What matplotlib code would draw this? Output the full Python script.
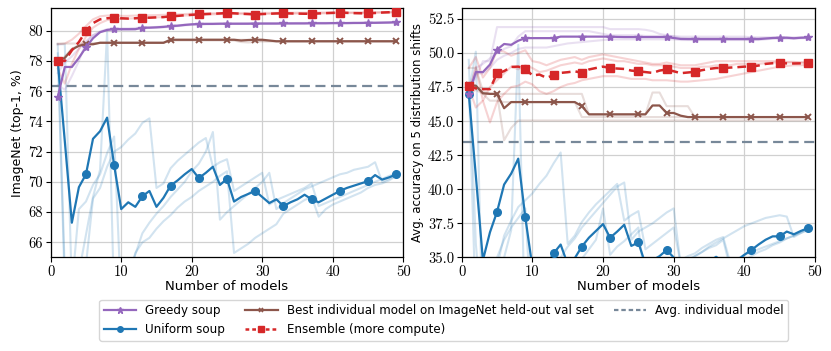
import numpy as np
import matplotlib
matplotlib.use("Agg")
import matplotlib.pyplot as plt
from matplotlib.ticker import MultipleLocator, FormatStrFormatter
from matplotlib.lines import Line2D

plt.rcParams['font.family'] = ['DejaVu Sans']
plt.rcParams['axes.formatter.use_mathtext'] = True

n_models = list(range(1, 50))

# ---------------- ImageNet (left) ----------------
greedy_in = [75.6, 77.6, 77.6, 78.2, 78.9, 79.5, 79.9, 80.05, 80.1, 80.1,
             80.1, 80.1, 80.2, 80.2, 80.22, 80.25, 80.3, 80.33, 80.38, 80.42,
             80.44, 80.45, 80.45, 80.46, 80.46, 80.46, 80.46, 80.46, 80.47, 80.47,
             80.47, 80.47, 80.48, 80.48, 80.48, 80.48, 80.49, 80.49, 80.49, 80.5,
             80.5, 80.5, 80.51, 80.51, 80.52, 80.52, 80.53, 80.54, 80.56]
uniform_in = [78.0, 72.7, 67.3, 69.65, 70.5, 72.85, 73.35, 74.25, 71.1, 68.2,
              68.65, 68.35, 69.05, 69.4, 68.35, 68.95, 69.75, 70.1, 70.5, 70.85,
              70.25, 70.6, 71.0, 69.8, 70.2, 68.7, 69.0, 69.2, 69.4, 69.0,
              68.6, 68.85, 68.4, 68.65, 68.85, 69.15, 68.85, 68.65, 68.9, 69.15,
              69.4, 69.6, 69.75, 69.9, 70.05, 70.45, 70.15, 70.3, 70.5]
best_in = [78.0, 78.2, 78.75, 79.0, 79.1, 79.1, 79.2, 79.2, 79.2, 79.2,
           79.2, 79.2, 79.2, 79.2, 79.2, 79.2, 79.4, 79.4, 79.4, 79.4,
           79.4, 79.4, 79.4, 79.4, 79.4, 79.4, 79.35, 79.38, 79.4, 79.4,
           79.35, 79.3, 79.3, 79.3, 79.3, 79.3, 79.3, 79.3, 79.3, 79.3,
           79.3, 79.3, 79.3, 79.3, 79.3, 79.3, 79.3, 79.3, 79.3]
ens_in = [78.0, 78.0, 78.7, 79.25, 79.97, 80.5, 80.75, 80.82, 80.86, 80.82,
          80.8, 80.82, 80.86, 80.86, 80.88, 80.9, 80.95, 80.98, 81.02, 81.05,
          81.08, 81.1, 81.12, 81.14, 81.17, 81.15, 81.12, 81.1, 81.07, 81.1,
          81.12, 81.14, 81.15, 81.14, 81.13, 81.12, 81.12, 81.14, 81.16, 81.18,
          81.2, 81.18, 81.16, 81.15, 81.14, 81.17, 81.2, 81.22, 81.25]
avg_in = 76.36

# faint lines (other orderings), ImageNet
uniform_in_faint = [
    [79.1, 79.1, 63.0, 68.2, 68.7, 69.8, 70.5, 71.9, 73.0, 62.0,
     63.5, 65.3, 66.0, 66.3, 66.9, 67.4, 67.8, 68.3, 68.7, 69.0,
     69.4, 69.7, 70.0, 70.4, 70.7, 65.3, 65.6, 65.9, 66.3, 66.6,
     66.9, 67.2, 67.9, 68.2, 68.5, 68.8, 69.0, 67.7, 68.2, 68.5,
     68.7, 68.9, 69.1, 69.3, 69.6, 69.8, 69.9, 70.1, 70.4],
    [78.5, 63.0, 62.0, 64.0, 66.5, 69.0, 70.8, 79.9, 62.0, 63.0,
     64.0, 65.2, 66.6, 67.3, 67.9, 68.4, 69.0, 69.5, 70.0, 70.7,
     71.2, 72.0, 73.3, 67.5, 68.0, 68.4, 68.8, 69.2, 69.6, 70.0,
     70.6, 68.2, 68.6, 68.9, 69.2, 69.5, 69.7, 69.9, 70.1, 70.3,
     70.5, 70.6, 70.8, 70.9, 71.0, 71.3, 70.0, 70.2, 70.4],
    [79.1, 64.0, 60.0, 62.0, 64.5, 68.9, 69.6, 71.0, 72.0, 72.3,
     72.8, 73.2, 73.9, 74.2, 69.6, 69.9, 70.9, 71.4, 71.8, 72.2,
     72.6, 72.9, 71.0, 71.3, 71.5, 69.4, 69.7, 70.0, 70.3, 70.6,
     68.5, 68.8, 69.0, 69.2, 69.4, 69.6, 69.9, 68.4, 68.6, 68.8,
     69.0, 69.2, 69.4, 69.6, 69.8, 70.0, 70.2, 70.4, 70.55],
]
greedy_in_faint = [
    [76.4, 76.1, 77.0, 78.0, 79.2, 79.7, 79.95, 80.1, 80.15, 80.15,
     80.15, 80.18, 80.2, 80.22, 80.25, 80.28, 80.3, 80.35, 80.4, 80.42,
     80.45, 80.46, 80.47, 80.48, 80.48, 80.48, 80.49, 80.49, 80.5, 80.5,
     80.5, 80.5, 80.5, 80.5, 80.51, 80.51, 80.51, 80.52, 80.52, 80.52,
     80.52, 80.53, 80.53, 80.53, 80.54, 80.54, 80.55, 80.55, 80.56],
    [77.2, 77.9, 78.3, 78.8, 79.3, 79.7, 79.9, 80.0, 80.05, 80.05,
     80.05, 80.08, 80.15, 80.18, 80.2, 80.22, 80.25, 80.3, 80.35, 80.38,
     80.4, 80.42, 80.43, 80.44, 80.45, 80.45, 80.45, 80.46, 80.46, 80.46,
     80.47, 80.47, 80.47, 80.47, 80.48, 80.48, 80.48, 80.49, 80.49, 80.49,
     80.5, 80.5, 80.5, 80.51, 80.51, 80.52, 80.52, 80.53, 80.54],
]
ens_in_faint = [
    [79.1, 79.15, 79.4, 79.8, 80.3, 80.75, 80.95, 81.0, 81.0, 80.98,
     80.98, 81.0, 81.02, 81.02, 81.03, 81.05, 81.07, 81.08, 81.1, 81.12,
     81.13, 81.14, 81.15, 81.16, 81.17, 81.17, 81.17, 81.17, 81.18, 81.18,
     81.18, 81.18, 81.18, 81.19, 81.19, 81.19, 81.2, 81.2, 81.2, 81.2,
     81.21, 81.21, 81.21, 81.22, 81.22, 81.22, 81.23, 81.23, 81.24],
    [77.5, 76.5, 77.8, 78.8, 79.6, 80.2, 80.5, 80.7, 80.75, 80.78,
     80.8, 80.82, 80.84, 80.86, 80.88, 80.9, 80.93, 80.96, 81.0, 81.02,
     81.04, 81.06, 81.08, 81.1, 81.1, 81.1, 81.1, 81.1, 81.1, 81.1,
     81.11, 81.11, 81.12, 81.12, 81.13, 81.13, 81.14, 81.14, 81.15, 81.15,
     81.16, 81.16, 81.17, 81.17, 81.18, 81.18, 81.19, 81.2, 81.21],
]
best_in_faint = [
    [79.15, 79.15, 79.15, 79.15, 79.15, 79.15, 79.2, 79.2, 79.2, 79.2,
     79.2, 79.2, 79.2, 79.2, 79.2, 79.2, 79.4, 79.4, 79.4, 79.4,
     79.4, 79.4, 79.4, 79.4, 79.4, 79.4, 79.4, 79.4, 79.4, 79.3,
     79.3, 79.3, 79.3, 79.3, 79.3, 79.3, 79.3, 79.3, 79.3, 79.3,
     79.3, 79.3, 79.3, 79.3, 79.3, 79.3, 79.3, 79.3, 79.3],
    [77.9, 78.3, 78.8, 79.05, 79.1, 79.15, 79.2, 79.2, 79.2, 79.2,
     79.2, 79.2, 79.2, 79.2, 79.2, 79.2, 79.35, 79.35, 79.35, 79.35,
     79.35, 79.35, 79.35, 79.35, 79.35, 79.35, 79.25, 79.22, 79.25, 79.3,
     79.3, 79.3, 79.3, 79.3, 79.3, 79.3, 79.3, 79.3, 79.3, 79.3,
     79.3, 79.3, 79.3, 79.3, 79.3, 79.3, 79.3, 79.3, 79.3],
]

# ---------------- Distribution shifts (right) ----------------
greedy_ood = [47.0, 48.6, 48.6, 49.15, 50.25, 50.66, 50.6, 50.9, 51.09, 51.09,
              51.09, 51.09, 51.09, 51.2, 51.2, 51.2, 51.2, 51.2, 51.2, 51.2,
              51.2, 51.18, 51.17, 51.17, 51.17, 51.17, 51.17, 51.17, 51.17, 51.1,
              51.03, 51.02, 51.02, 51.02, 51.02, 51.02, 51.02, 51.02, 51.02, 51.02,
              51.02, 51.02, 51.06, 51.1, 51.12, 51.12, 51.08, 51.12, 51.14]
uniform_ood = [47.0, 41.0, 34.8, 36.85, 38.35, 40.35, 41.15, 42.25, 37.95, 34.3,
               34.8, 34.4, 35.3, 35.95, 34.5, 34.95, 35.8, 36.45, 36.95, 37.45,
               36.45, 36.9, 37.4, 35.85, 36.1, 34.5, 34.8, 35.1, 35.55, 35.0,
               34.4, 34.7, 34.0, 34.4, 34.7, 35.05, 34.7, 34.4, 34.8, 35.2,
               35.55, 35.95, 36.3, 36.55, 36.55, 36.9, 36.7, 36.95, 37.15]
best_ood = [47.65, 47.6, 47.05, 47.0, 47.0, 45.95, 46.4, 46.4, 46.4, 46.4,
            46.4, 46.4, 46.4, 46.4, 46.4, 46.4, 46.1, 45.5, 45.5, 45.5,
            45.5, 45.5, 45.5, 45.5, 45.5, 45.5, 46.15, 46.15, 45.6, 45.6,
            45.4, 45.3, 45.3, 45.3, 45.3, 45.3, 45.3, 45.3, 45.3, 45.3,
            45.3, 45.3, 45.3, 45.3, 45.3, 45.3, 45.3, 45.3, 45.3]
ens_ood = [47.6, 47.4, 47.35, 47.35, 48.5, 48.67, 48.98, 49.0, 48.86, 48.35,
           48.42, 48.18, 48.37, 48.54, 48.59, 48.66, 48.54, 48.79, 48.9, 49.0,
           48.9, 48.86, 48.83, 48.71, 48.66, 48.6, 48.54, 48.71, 48.79, 48.66,
           48.52, 48.57, 48.62, 48.74, 48.83, 48.9, 48.9, 48.93, 48.96, 49.0,
           49.0, 49.08, 49.2, 49.25, 49.25, 49.24, 49.23, 49.24, 49.25]
avg_ood = 43.49

uniform_ood_faint = [
    [49.5, 36.0, 30.0, 31.5, 34.3, 36.6, 37.7, 38.7, 39.2, 39.7,
     40.4, 41.0, 41.9, 42.7, 36.0, 36.6, 37.6, 38.3, 38.9, 39.4,
     39.9, 40.4, 37.7, 38.1, 38.4, 35.6, 36.0, 36.4, 36.8, 37.2,
     34.5, 34.9, 35.1, 35.4, 35.7, 35.9, 36.3, 34.2, 34.5, 34.8,
     35.1, 35.4, 35.6, 35.9, 36.1, 36.4, 36.6, 36.9, 37.1],
    [47.8, 31.0, 29.0, 31.5, 33.0, 35.0, 37.0, 50.6, 29.0, 30.0,
     31.0, 32.5, 34.0, 35.0, 35.8, 36.4, 37.2, 37.8, 38.4, 39.0,
     39.6, 40.2, 40.5, 36.3, 36.9, 37.2, 37.5, 37.9, 38.3, 38.6,
     34.4, 34.7, 35.1, 35.4, 35.8, 36.1, 36.4, 36.7, 37.0, 37.3,
     37.5, 37.7, 37.9, 38.0, 38.1, 38.0, 36.5, 36.8, 37.1],
    [47.0, 50.1, 29.0, 32.0, 35.0, 36.3, 37.2, 37.9, 38.6, 29.5,
     30.5, 31.5, 32.3, 33.0, 33.8, 34.3, 34.9, 35.6, 36.3, 38.6,
     35.2, 35.8, 36.2, 36.7, 37.2, 33.0, 33.4, 33.8, 34.2, 34.5,
     34.8, 35.1, 35.3, 35.7, 36.0, 36.3, 36.5, 34.6, 34.9, 35.2,
     35.4, 35.6, 35.8, 36.0, 36.2, 36.4, 36.6, 36.8, 37.0],
]
greedy_ood_faint = [
    [47.0, 48.2, 49.4, 49.4, 51.9, 51.9, 51.9, 51.9, 51.9, 51.9,
     51.9, 51.9, 51.9, 51.9, 51.9, 51.9, 51.9, 51.9, 51.9, 51.9,
     51.75, 51.75, 51.75, 51.75, 51.75, 51.7, 51.6, 51.4, 51.3, 51.2,
     51.1, 51.1, 51.1, 51.1, 51.1, 51.1, 51.1, 51.1, 51.1, 51.1,
     51.1, 51.1, 51.1, 51.1, 51.1, 51.1, 51.1, 51.1, 51.1],
    [47.1, 48.9, 49.2, 49.6, 50.0, 50.3, 50.5, 51.2, 51.6, 51.6,
     51.6, 51.6, 51.6, 51.6, 51.6, 51.6, 51.6, 51.6, 51.5, 51.4,
     51.3, 51.3, 51.3, 51.3, 51.3, 51.25, 51.25, 51.25, 51.25, 51.25,
     51.2, 51.2, 51.2, 51.2, 51.2, 51.2, 51.2, 51.2, 51.2, 51.2,
     51.15, 51.15, 51.15, 51.15, 51.15, 51.15, 51.15, 51.15, 51.15],
    [47.0, 48.5, 48.5, 48.9, 49.5, 49.8, 50.0, 50.3, 50.4, 50.4,
     50.4, 50.4, 50.5, 50.6, 50.7, 50.75, 50.8, 50.85, 50.9, 50.95,
     51.0, 51.0, 51.0, 51.0, 51.0, 51.0, 51.0, 51.0, 51.0, 51.0,
     50.95, 50.95, 50.95, 50.95, 50.95, 50.95, 50.95, 50.95, 50.95, 50.95,
     50.95, 50.95, 51.0, 51.05, 51.05, 51.05, 51.05, 51.08, 51.1],
]
ens_ood_faint = [
    [48.9, 49.7, 48.2, 48.9, 50.2, 50.1, 49.8, 50.0, 50.2, 49.4,
     49.3, 49.1, 49.3, 49.5, 49.6, 49.7, 49.5, 49.7, 49.8, 49.9,
     49.8, 49.7, 49.6, 49.5, 49.4, 49.3, 49.2, 49.2, 49.3, 49.2,
     49.1, 49.1, 49.1, 49.2, 49.3, 49.4, 49.4, 49.4, 49.4, 49.4,
     49.4, 49.4, 49.4, 49.4, 49.4, 49.35, 49.35, 49.3, 49.3],
    [47.5, 46.0, 46.5, 44.9, 46.4, 47.0, 47.5, 47.6, 47.9, 47.7,
     47.2, 47.0, 47.2, 47.5, 47.7, 47.8, 48.0, 48.1, 48.2, 48.3,
     48.3, 48.3, 48.2, 48.1, 48.1, 48.1, 48.0, 48.0, 48.0, 47.95,
     47.9, 47.9, 47.95, 48.0, 48.05, 48.1, 48.2, 48.3, 48.4, 48.5,
     48.6, 48.7, 48.8, 48.9, 49.0, 49.05, 49.1, 49.1, 49.15],
    [47.0, 49.0, 46.5, 47.5, 48.0, 48.5, 49.0, 48.8, 49.1, 48.9,
     48.6, 48.7, 48.9, 49.1, 49.2, 49.3, 49.2, 49.4, 49.5, 49.6,
     49.5, 49.4, 49.4, 49.3, 49.2, 49.2, 49.1, 49.1, 49.1, 49.0,
     48.9, 48.9, 48.9, 49.0, 49.0, 49.1, 49.1, 49.1, 49.2, 49.2,
     49.2, 49.2, 49.25, 49.3, 49.3, 49.3, 49.3, 49.3, 49.3],
]
best_ood_faint = [
    [48.9, 48.9, 47.2, 47.0, 47.0, 43.6, 44.5, 45.05, 45.05, 45.05,
     45.05, 45.05, 45.05, 45.05, 45.05, 45.05, 45.05, 45.05, 45.05, 45.05,
     45.05, 45.05, 45.05, 45.05, 45.05, 45.05, 45.05, 45.05, 45.05, 45.05,
     45.05, 45.05, 45.05, 45.05, 45.05, 45.05, 45.05, 45.05, 45.05, 45.05,
     45.05, 45.05, 45.05, 45.05, 45.05, 45.05, 45.05, 45.05, 45.05],
    [47.6, 47.6, 47.0, 47.0, 47.0, 47.0, 47.0, 47.0, 47.0, 47.0,
     47.0, 47.0, 47.0, 47.0, 47.0, 47.0, 47.0, 45.5, 45.5, 45.5,
     45.5, 45.5, 45.5, 45.5, 45.5, 45.5, 47.1, 47.1, 46.1, 46.1,
     46.1, 46.1, 45.3, 45.3, 45.3, 45.3, 45.3, 45.3, 45.3, 45.3,
     45.3, 45.3, 45.3, 45.3, 45.3, 45.3, 45.3, 45.3, 45.3],
    [47.0, 47.3, 47.0, 46.5, 46.5, 46.4, 46.4, 46.4, 46.4, 46.4,
     46.4, 46.4, 46.4, 46.4, 46.4, 46.4, 45.3, 45.3, 45.3, 45.3,
     45.3, 45.3, 45.3, 45.3, 45.3, 45.3, 45.3, 45.3, 45.3, 45.3,
     45.3, 45.3, 45.3, 45.3, 45.3, 45.3, 45.3, 45.3, 45.3, 45.3,
     45.3, 45.3, 45.3, 45.3, 45.3, 45.3, 45.3, 45.3, 45.3],
]

labels = ["Greedy soup", "Uniform soup",
          "Best individual model on ImageNet held-out val set",
          "Ensemble (more compute)", "Avg. individual model"]

C_GREEDY = '#9467bd'
C_UNIFORM = '#1f77b4'
C_BEST = '#8c564b'
C_ENS = '#d62728'
C_AVG = '#778899'

LABEL_FS = 9
fig = plt.figure(figsize=(8.31, 3.51), dpi=100)
axL = fig.add_axes([0.061, 0.2664, 0.4243, 0.7108])
axR = fig.add_axes([0.5556, 0.2664, 0.4252, 0.7108])


def draw(ax, greedy, uniform, best, ens, avg, gf, uf, ef, bf):
    fa = 0.2
    for s in uf:
        ax.plot(n_models, s, color=C_UNIFORM, alpha=fa, lw=1.5, zorder=1)
    for s in gf:
        ax.plot(n_models, s, color=C_GREEDY, alpha=fa, lw=1.5, zorder=1)
    for s in ef:
        ax.plot(n_models, s, color=C_ENS, alpha=fa, lw=1.5, zorder=1)
    for s in bf:
        ax.plot(n_models, s, color=C_BEST, alpha=fa, lw=1.5, zorder=1)
    ax.axhline(avg, color=C_AVG, lw=1.6, ls=(0, (4.5, 2.5)), zorder=2)
    ax.plot(n_models, uniform, color=C_UNIFORM, lw=1.6, marker='o', ms=5.5,
            markevery=4, zorder=3)
    ax.plot(n_models, best, color=C_BEST, lw=1.6, marker='x', ms=4.5, mew=1.4,
            markevery=4, zorder=3)
    ax.plot(n_models, greedy, color=C_GREEDY, lw=1.6, marker='*', ms=6,
            markevery=4, zorder=4)
    ax.plot(n_models, ens, color=C_ENS, lw=1.8, ls=(0, (3.5, 2)), marker='s', ms=5.5,
            markevery=4, zorder=5)
    ax.set_xlim(0, 50)
    ax.xaxis.set_major_locator(MultipleLocator(10))
    ax.xaxis.set_major_formatter(FormatStrFormatter('%d'))
    ax.grid(True, color='#d0d0d0', lw=0.9, zorder=0)
    ax.set_axisbelow(True)
    ax.set_xlabel("Number of models", fontsize=LABEL_FS + 0.5, labelpad=1)
    ax.tick_params(labelsize=10.5, length=3.5, width=0.8, pad=2,
                   labelfontfamily='cmr10')
    for sp in ax.spines.values():
        sp.set_linewidth(0.9)


draw(axL, greedy_in, uniform_in, best_in, ens_in, avg_in,
     greedy_in_faint, uniform_in_faint, ens_in_faint, best_in_faint)
axL.set_ylim(65, 81.5)
axL.yaxis.set_major_locator(MultipleLocator(2))
axL.yaxis.set_major_formatter(FormatStrFormatter('%d'))
axL.set_ylabel("ImageNet (top-1, %)", fontsize=LABEL_FS, labelpad=3)

draw(axR, greedy_ood, uniform_ood, best_ood, ens_ood, avg_ood,
     greedy_ood_faint, uniform_ood_faint, ens_ood_faint, best_ood_faint)
axR.set_ylim(35, 53.3)
axR.yaxis.set_major_locator(MultipleLocator(2.5))
axR.yaxis.set_major_formatter(FormatStrFormatter('%.1f'))
axR.set_ylabel("Avg. accuracy on 5 distribution shifts", fontsize=LABEL_FS - 0.5, labelpad=3)

handles = [
    Line2D([], [], color=C_GREEDY, lw=1.6, marker='*', ms=4.5),
    Line2D([], [], color=C_UNIFORM, lw=1.6, marker='o', ms=4),
    Line2D([], [], color=C_BEST, lw=1.6, marker='x', ms=3.5, mew=1.2),
    Line2D([], [], color=C_ENS, lw=1.8, ls=(0, (1.5, 1.2)), marker='s', ms=4),
    Line2D([], [], color=C_AVG, lw=1.6, ls=(0, (2, 1.3))),
]
fig.legend(handles, labels, ncol=3, loc='center', bbox_to_anchor=(0.534, 0.088),
           fontsize=8.6, frameon=True, fancybox=True, edgecolor='#cccccc',
           handlelength=2.7, columnspacing=1.7, labelspacing=0.45, borderpad=0.4,
           handletextpad=0.75)

fig.savefig("out.png", dpi=100)
